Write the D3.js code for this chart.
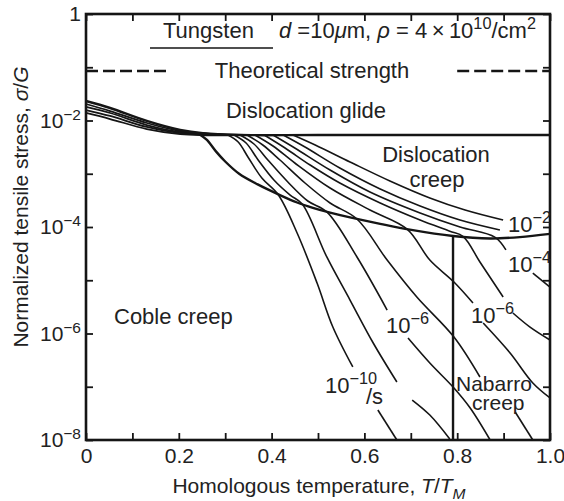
<!DOCTYPE html>
<html><head><meta charset="utf-8">
<script src="https://cdn.jsdelivr.net/npm/d3@7/dist/d3.min.js"></script>
<style>
html,body{margin:0;padding:0;background:#fff;}
text{font-family:"Liberation Sans",Arial,Helvetica,sans-serif;fill:#222;}
</style></head>
<body><svg id="c" width="564" height="501"></svg>
<script>
// ---------- data (T/TM, log10 of sigma/G) ----------
const xTickValues = [0,0.1,0.2,0.3,0.4,0.5,0.6,0.7,0.8,0.9,1.0];
const xTickLabels = ["0","","0.2","","0.4","","0.6","","0.8","","1.0"];
const yTickExponents = [0,-1,-2,-3,-4,-5,-6,-7,-8];
const yTickLabels = ["1","","10^−2","","10^−4","","10^−6","","10^−8"];

const theoreticalStrength = -1.07;
const theoreticalSpans = [[0,0.175],[0.80,1.0]];

const glideBoundary = [[0,-1.634],[0.052,-1.765],[0.131,-2.009],[0.203,-2.178],[0.252,-2.240],[0.33,-2.272],[0.5,-2.272],[1.0,-2.272]];
const glideBand = [
  [[0,-1.690],[0.052,-1.822],[0.131,-2.047],[0.203,-2.197],[0.278,-2.256],[0.353,-2.272]],
  [[0,-1.746],[0.052,-1.859],[0.131,-2.085],[0.203,-2.216],[0.289,-2.263],[0.375,-2.272]],
  [[0,-1.803],[0.052,-1.915],[0.131,-2.122],[0.203,-2.235],[0.300,-2.272]],
  [[0,-1.859],[0.052,-1.972],[0.131,-2.160],[0.203,-2.254],[0.310,-2.280]]
];
const creepBoundary = [[0.245,-2.262],[0.26,-2.36],[0.28,-2.58],[0.30,-2.77],[0.33,-3.00],[0.37,-3.20],[0.418,-3.40],[0.455,-3.54],[0.489,-3.64],[0.526,-3.73],[0.569,-3.82],[0.634,-3.94],[0.698,-4.05],[0.791,-4.17],[0.871,-4.215],[0.935,-4.19],[1.0,-4.13]];
const nabarroBoundaryT = 0.791;

// strain-rate contours, each a list of drawn pieces (gaps left for labels)
const rateContours = [
  [[[0.446,-2.272],[0.494,-2.460],[0.569,-2.779],[0.655,-3.136],[0.741,-3.455],[0.817,-3.681],[0.899,-3.869]]],
  [[[0.425,-2.272],[0.472,-2.498],[0.547,-2.892],[0.634,-3.286],[0.720,-3.606],[0.806,-3.869],[0.892,-4.056]]],
  [[[0.403,-2.272],[0.450,-2.516],[0.526,-2.930],[0.612,-3.343],[0.720,-3.737],[0.806,-4.0],[0.881,-4.19],[0.905,-4.43]],
   [[0.963,-4.864],[1.0,-5.127]]],
  [[[0.384,-2.272],[0.429,-2.516],[0.483,-2.836],[0.547,-3.174],[0.634,-3.549],[0.720,-3.869],[0.784,-4.08],[0.813,-4.18],[0.849,-4.657],[0.899,-5.315]],
   [[0.920,-5.615],[0.957,-5.880],[1.0,-6.122]]],
  [[[0.364,-2.272],[0.403,-2.479],[0.450,-2.798],[0.526,-3.268],[0.612,-3.681],[0.692,-4.04],[0.741,-4.620],[0.793,-5.033],[0.834,-5.427]],
   [[0.856,-5.803],[0.914,-6.366],[0.963,-6.930],[1.0,-7.211]]],
  [[[0.347,-2.272],[0.381,-2.460],[0.418,-2.742],[0.472,-3.174],[0.526,-3.549],[0.584,-3.85],[0.649,-4.620],[0.713,-5.315],[0.793,-6.066],[0.849,-6.817]],
   [[0.925,-7.474],[0.963,-8.0]]],
  [[[0.332,-2.272],[0.362,-2.441],[0.392,-2.742],[0.435,-3.155],[0.478,-3.512],[0.519,-3.715],[0.584,-4.563],[0.649,-5.559]],
   [[0.694,-6.085],[0.741,-6.554],[0.793,-7.023],[0.828,-7.399],[0.871,-8.0]]],
  [[[0.319,-2.272],[0.345,-2.423],[0.371,-2.742],[0.405,-3.117],[0.440,-3.40],[0.466,-3.57],[0.519,-4.563],[0.569,-5.371],[0.619,-6.178],[0.670,-6.911]],
   [[0.703,-7.249],[0.741,-7.531],[0.784,-7.981]]],
  [[[0.306,-2.272],[0.328,-2.404],[0.349,-2.685],[0.379,-3.080],[0.414,-3.39],[0.455,-4.113],[0.498,-5.052],[0.532,-5.878],[0.575,-6.629]],
   [[0.629,-7.437],[0.670,-8.0]]]
];

// ---------- drawing ----------
const svg = d3.select("#c");
const x = d3.scaleLinear().domain([0,1]).range([86,550]);
const y = d3.scaleLog().domain([1e-8,1]).range([440,14]);
const Y = e => y(Math.pow(10,e));
const line = d3.line().x(d=>x(d[0])).y(d=>Y(d[1])).curve(d3.curveCatmullRom.alpha(0.5));
const INK = "#151515";

function rich(sel, px, py, parts, size, anchor){
  const t = sel.append("text").attr("x",px).attr("y",py).attr("font-size",size).attr("text-anchor",anchor||"start");
  let shift = 0;
  parts.forEach(p=>{
    const s = t.append("tspan").text(p.t);
    if (p.newline){ s.attr("x", p.newline.x); s.attr("dy", p.newline.dy - shift); shift = 0; }
    const target = p.sup ? -0.42*size : (p.sub ? 0.28*size : 0);
    if (target !== shift){ s.attr("dy", (+s.attr("dy")||0) + target-shift); shift = target; }
    if (p.sup || p.sub) s.attr("font-size", size*0.74);
    if (p.it) s.attr("font-style","italic");
  });
  return t;
}

// axes (ticks inward)
const gx = svg.append("g").attr("transform","translate(0,440)")
  .call(d3.axisBottom(x).tickValues(xTickValues).tickSize(-7).tickPadding(8)
        .tickFormat((d,i)=>xTickLabels[i]));
const gxt = svg.append("g").attr("transform","translate(0,14)")
  .call(d3.axisTop(x).tickValues(xTickValues).tickSize(-7).tickFormat(""));
const gy = svg.append("g").attr("transform","translate(86,0)")
  .call(d3.axisLeft(y).tickValues(yTickExponents.map(e=>Math.pow(10,e))).tickSize(-7).tickPadding(5).tickFormat(""));
const gyr = svg.append("g").attr("transform","translate(550,0)")
  .call(d3.axisRight(y).tickValues(yTickExponents.map(e=>Math.pow(10,e))).tickSize(-7).tickFormat(""));
[gx,gxt,gy,gyr].forEach(g=>{
  g.select(".domain").remove();
  g.selectAll(".tick line").attr("stroke",INK).attr("stroke-width",1.8);
  g.attr("font-family",null).attr("font-size",21);
});
gx.selectAll(".tick text").attr("fill","#222");
gy.selectAll(".tick text").each(function(d,i){
  const t = d3.select(this).attr("fill","#222");
  const lab = yTickLabels[i];
  if (lab.indexOf("^")<0){ t.append("tspan").text(lab); return; }
  const [b,e] = lab.split("^");
  t.append("tspan").text(b);
  t.append("tspan").text(e).attr("dy",-8).attr("font-size",15.5);
});

// frame
svg.append("rect").attr("x",86).attr("y",14).attr("width",464).attr("height",426)
  .attr("fill","none").attr("stroke",INK).attr("stroke-width",2.6);

const plot = svg.append("g");
theoreticalSpans.forEach(s=>{
  plot.append("path").attr("d", line([[s[0],theoreticalStrength],[s[1],theoreticalStrength]]))
    .attr("fill","none").attr("stroke",INK).attr("stroke-width",2.4).attr("stroke-dasharray","12,5");
});
glideBand.forEach(b=>plot.append("path").attr("d",line(b)).attr("fill","none").attr("stroke",INK).attr("stroke-width",1.8));
plot.append("path").attr("d",line(glideBoundary)).attr("fill","none").attr("stroke",INK).attr("stroke-width",2.4);
rateContours.forEach(c=>c.forEach(seg=>{
  plot.append("path").attr("d",line(seg)).attr("fill","none").attr("stroke",INK).attr("stroke-width",1.6);
}));
plot.append("path").attr("d",line(creepBoundary)).attr("fill","none").attr("stroke",INK).attr("stroke-width",2.4);
plot.append("path").attr("d",d3.line()([[x(nabarroBoundaryT),Y(-4.17)],[x(nabarroBoundaryT),Y(-8)]]))
  .attr("fill","none").attr("stroke",INK).attr("stroke-width",2.4);

// annotations
const A = svg.append("g");
const FS = 22;
rich(A, 163, 38, [{t:"Tungsten"}], FS);
A.append("line").attr("x1",150).attr("x2",273).attr("y1",48).attr("y2",48).attr("stroke",INK).attr("stroke-width",1.6);
rich(A, 279, 38, [{t:"d",it:true},{t:" =10"},{t:"μ",it:true},{t:"m, "},{t:"ρ",it:true},{t:" = 4\u2009×\u200910"},{t:"10",sup:true},{t:"/cm"},{t:"2",sup:true}], FS);
rich(A, 312, 78, [{t:"Theoretical strength"}], FS, "middle");
rich(A, 306, 118, [{t:"Dislocation glide"}], FS, "middle");
rich(A, 436, 162, [{t:"Dislocation"},{t:"creep",newline:{x:437,dy:25}}], FS, "middle");
rich(A, 114, 324, [{t:"Coble creep"}], FS);
rich(A, 456, 391, [{t:"Nabarro"},{t:"creep",newline:{x:472,dy:19}}], 21);
rich(A, 508, 232, [{t:"10"},{t:"−2",sup:true}], FS);
rich(A, 508, 272, [{t:"10"},{t:"−4",sup:true}], FS);
rich(A, 471, 323, [{t:"10"},{t:"−6",sup:true}], FS);
rich(A, 386, 333, [{t:"10"},{t:"−6",sup:true}], FS);
rich(A, 325, 393, [{t:"10"},{t:"−10",sup:true},{t:"/s",newline:{x:366,dy:11}}], FS);

// axis titles
rich(svg, 319, 493, [{t:"Homologous temperature, "},{t:"T",it:true},{t:"/"},{t:"T",it:true},{t:"M",it:true,sub:true}], 21, "middle");
rich(svg.append("g").attr("transform","translate(28,207) rotate(-90)"), 0, 0,
  [{t:"Normalized tensile stress, "},{t:"σ",it:true},{t:"/"},{t:"G",it:true}], 21, "middle");
</script></body></html>
